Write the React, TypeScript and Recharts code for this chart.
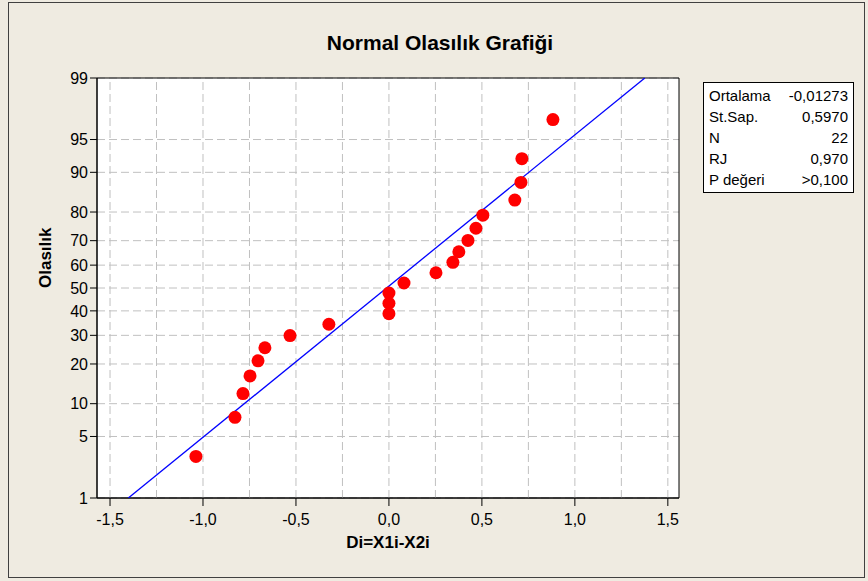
import { CartesianGrid, ReferenceArea, ReferenceLine, Scatter, ScatterChart, XAxis, YAxis } from 'recharts';

// differences Di, sorted
const diffs = [
  -1.038, -0.828, -0.785, -0.747, -0.704, -0.667, -0.532, -0.323, 0.0, 0.0, 0.0,
  0.081, 0.253, 0.344, 0.376, 0.425, 0.468, 0.505, 0.677, 0.71, 0.715, 0.882
];
// plotting positions (percent)
const percents = [
  3.1, 7.6, 12.1, 16.5, 21.0, 25.4, 29.9, 34.4, 38.8, 43.3, 47.8,
  52.2, 56.7, 61.2, 65.6, 70.1, 74.6, 79.0, 83.5, 87.9, 92.4, 96.9
];
const yTickPercents = [1, 5, 10, 20, 30, 40, 50, 60, 70, 80, 90, 95, 99];
const xTicks = [-1.5, -1.0, -0.5, 0.0, 0.5, 1.0, 1.5];
const xGrid = [-1.5, -1.25, -1.0, -0.75, -0.5, -0.25, 0, 0.25, 0.5, 0.75, 1.0, 1.25, 1.5];
const statLabels = ['Ortalama', 'St.Sap.', 'N', 'RJ', 'P değeri'];
const statValues = ['-0,01273', '0,5970', '22', '0,970', '>0,100'];
const mean = -0.01273;
const sd = 0.597;

// inverse standard normal (Acklam)
function probit(p: number) {
  const a = [-39.6968302866538, 220.946098424521, -275.928510446969, 138.357751867269, -30.6647980661472, 2.50662827745924];
  const b = [-54.4760987982241, 161.585836858041, -155.698979859887, 66.8013118877197, -13.2806815528857];
  const c = [-0.00778489400243029, -0.322396458041136, -2.40075827716184, -2.54973253934373, 4.37466414146497, 2.93816398269878];
  const d = [0.00778469570904146, 0.32246712907004, 2.445134137143, 3.75440866190742];
  const pl = 0.02425;
  if (p < pl) {
    const q = Math.sqrt(-2 * Math.log(p));
    return (((((c[0] * q + c[1]) * q + c[2]) * q + c[3]) * q + c[4]) * q + c[5]) / ((((d[0] * q + d[1]) * q + d[2]) * q + d[3]) * q + 1);
  }
  if (p > 1 - pl) {
    const q = Math.sqrt(-2 * Math.log(1 - p));
    return -(((((c[0] * q + c[1]) * q + c[2]) * q + c[3]) * q + c[4]) * q + c[5]) / ((((d[0] * q + d[1]) * q + d[2]) * q + d[3]) * q + 1);
  }
  const q = p - 0.5;
  const r = q * q;
  return ((((((a[0] * r + a[1]) * r + a[2]) * r + a[3]) * r + a[4]) * r + a[5]) * q) / (((((b[0] * r + b[1]) * r + b[2]) * r + b[3]) * r + b[4]) * r + 1);
}

const zMin = probit(0.01);
const zMax = probit(0.99);
const xMin = -1.57;
const xMax = 1.56;

const points = diffs.map((x, i) => ({ x, z: probit(percents[i] / 100) }));
const fitLine = [zMin, zMax].map((z) => ({ x: mean + sd * z, z }));
const yTicks = yTickPercents.map((p) => probit(p / 100));
const yLabel = (v: number) => {
  const i = yTicks.findIndex((t) => Math.abs(t - v) < 1e-6);
  return i >= 0 ? String(yTickPercents[i]) : '';
};
const xLabel = (v: number) => v.toFixed(1).replace('.', ',');

const font = 'Arial, "Liberation Sans", sans-serif';
const tickStyle = { fill: '#000', fontSize: 16, fontFamily: font };

const Dot = (props: any) => <circle cx={props.cx} cy={props.cy} r={6.5} fill="#ff0000" />;

export default function App() {
  return (
    <div style={{ position: 'absolute', left: 0, top: 0, width: 868, height: 581, background: '#efebe1', fontFamily: font }}>
      <div style={{ position: 'absolute', left: 8, top: 2, width: 857, height: 576, border: '1px solid #404040', boxSizing: 'border-box' }} />
      <div style={{ position: 'absolute', left: 240, width: 400, top: 31, textAlign: 'center', fontWeight: 'bold', fontSize: 21 }}>
        Normal Olasılık Grafiği
      </div>
      <ScatterChart width={868} height={581} margin={{ top: 78, right: 189, bottom: 31, left: 37 }} style={{ position: 'absolute', left: 0, top: 0 }}>
        <CartesianGrid vertical={false} fill="#fff" stroke="#c0c0c0" strokeDasharray="8 4" />
        {xGrid.map((g) => (
          <ReferenceLine key={g} x={g} stroke="#c0c0c0" strokeDasharray="8 4" />
        ))}
        <XAxis
          type="number"
          dataKey="x"
          domain={[xMin, xMax]}
          allowDataOverflow
          ticks={xTicks}
          interval={0}
          tickFormatter={xLabel}
          tick={tickStyle}
          tickSize={8}
          tickMargin={8}
          tickLine={{ stroke: '#000' }}
          axisLine={{ stroke: '#000' }}
          height={52}
          label={{ value: 'Di=X1i-X2i', position: 'insideBottom', offset: 2, fill: '#000', fontSize: 17, fontWeight: 'bold', fontFamily: font }}
        />
        <YAxis
          type="number"
          dataKey="z"
          domain={[zMin, zMax]}
          allowDataOverflow
          ticks={yTicks}
          interval={0}
          tickFormatter={yLabel}
          tick={tickStyle}
          tickSize={7}
          tickLine={{ stroke: '#000' }}
          axisLine={{ stroke: '#000' }}
          width={60}
          label={{ value: 'Olasılık', angle: -90, position: 'insideLeft', offset: 0, dx: 8, fill: '#000', fontSize: 17, fontWeight: 'bold', fontFamily: font }}
        />
        <ReferenceArea x1={xMin} x2={xMax} y1={zMin} y2={zMax} fill="none" stroke="#000" strokeWidth={1} fillOpacity={0} />
        <Scatter data={fitLine} line={{ stroke: '#0000ff', strokeWidth: 1.3 }} shape={() => null} isAnimationActive={false} />
        <Scatter data={points} shape={Dot} isAnimationActive={false} />
      </ScatterChart>
      <div style={{ position: 'absolute', left: 703, top: 82, width: 151, height: 111, border: '1px solid #000', background: '#fff', padding: '2px 5px', boxSizing: 'border-box', fontSize: 15 }}>
        {statLabels.map((l, i) => (
          <div key={l} style={{ display: 'flex', justifyContent: 'space-between', height: 21, lineHeight: '21px' }}>
            <span>{l}</span>
            <span>{statValues[i]}</span>
          </div>
        ))}
      </div>
    </div>
  );
}
